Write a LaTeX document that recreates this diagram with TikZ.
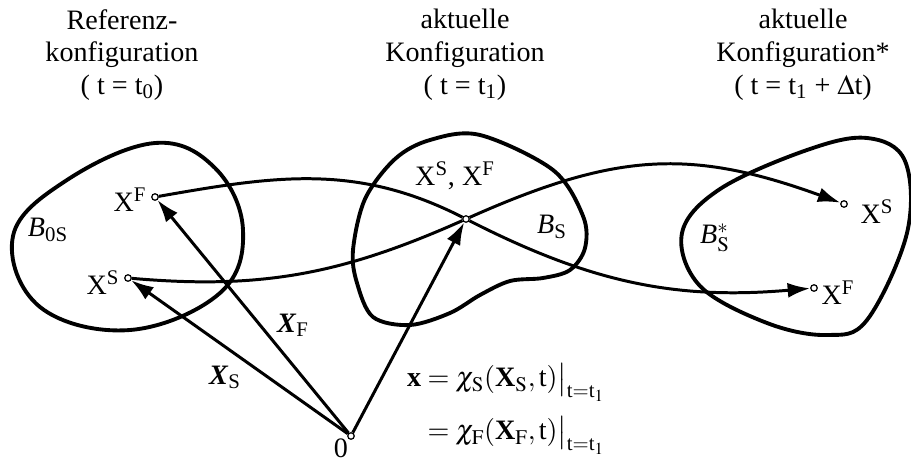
\documentclass[tikz,border=0pt]{standalone}
\usepackage{amsmath}
\usepackage{mathptmx}
\usepackage{fontspec}
\setmainfont{Liberation Serif}
\usepackage{tikz}
\usetikzlibrary{arrows.meta}

\tikzset{
  blob/.style={line width=2.2pt, line join=round},
  track/.style={line width=1.7pt},
  tip/.style={-{Latex[length=4.5mm,width=3mm]}},
  vec/.style={line width=1.7pt, tip},
  pt/.style={draw, circle, fill=white, inner sep=0pt, minimum size=1.3mm, line width=0.7pt},
  lbl/.style={font=\fontsize{16}{18.7}\selectfont, inner sep=1pt}
}

\begin{document}
\begin{tikzpicture}[x=0.02cm, y=0.02cm]
  \useasboundingbox (0,0) rectangle (911,461);

  % Headings
  \node[lbl, align=center] (head0) at (122,406) {Referenz-\\konfiguration\\( t = t\textsubscript{0})};
  \node[lbl, align=center] (head1) at (465,406) {aktuelle\\Konfiguration\\( t = t\textsubscript{1})};
  \node[lbl, align=center] (head2) at (803,406) {aktuelle\\Konfiguration*\\( t = t\textsubscript{1} + $\Delta$t)};

  % Bodies
  \draw[blob] plot[smooth cycle, tension=0.65] coordinates {
    (13,225) (67,281) (155,318) (215,293) (243,231) (220,168)
    (130,131) (40,154)};
  \draw[blob] plot[smooth cycle, tension=0.55] coordinates {
    (480,326) (553,291) (583,245) (585,213) (570,191) (543,183)
    (510,180) (480,166) (450,148) (410,136) (373,144) (357,178)
    (353,211) (365,262) (395,302) (430,321)};
  \draw[blob] plot[smooth cycle, tension=0.6] coordinates {
    (867,323) (905,300) (907,228) (867,141) (827,126) (767,138)
    (700,175) (682,228) (720,272) (807,311)};

  % Material points
  \node[pt] (O) at (351,25) {};
  \node[pt] (XF0) at (155,264) {};
  \node[pt] (XS0) at (128,183) {};
  \node[pt] (M) at (466,242) {};
  \node[pt] (XS1) at (844,257) {};
  \node[pt] (XF1) at (814,173) {};

  % Paths of the two points
  \draw[track] (XF0) to[out=10, in=153] (M);
  \draw[track, tip] (M) to[out=-27, in=185] (XF1);
  \draw[track] (XS0) to[out=-5, in=-156] (M);
  \draw[track, tip] (M) to[out=24, in=160, looseness=1.1] (XS1);

  % Position vectors
  \draw[vec] (O) -- (XF0);
  \draw[vec] (O) -- (XS0);
  \draw[vec] (O) -- (M);

  % Labels
  \node[lbl] (lXF0) at (130,261) {X\textsuperscript{F}};
  \node[lbl] (lXS0) at (103,178) {X\textsuperscript{S}};
  \node[lbl] (lM) at (455,285) {X\textsuperscript{S}, X\textsuperscript{F}};
  \node[lbl] (lXS1) at (877,249) {X\textsuperscript{S}};
  \node[lbl] (lXF1) at (838,168) {X\textsuperscript{F}};
  \node[lbl, inner sep=0pt] (lO) at (341,13) {0};
  \node[lbl] (lB0) at (48,231) {\textit{B}\textsubscript{0S}};
  \node[lbl] (lB1) at (552,234) {\textit{B}\textsubscript{S}};
  \node[lbl] (lB2) at (715,223) {\textit{B}$^{*}_{\mathrm{S}}$};
  \node[lbl] (lvF) at (293,136) {\textbf{\textit{X}}\textsubscript{F}};
  \node[lbl] (lvS) at (225,84) {\textbf{\textit{X}}\textsubscript{S}};

  % Motion
  \node[lbl, inner sep=0pt] (eq) at (506,52) {$\begin{aligned}
    \textbf{x} &= \chi_{\mathrm{S}}(\textbf{X}_{\mathrm{S}},\text{t})\big|_{\text{t}=\text{t}_1}\\[4pt]
    &= \chi_{\mathrm{F}}(\textbf{X}_{\mathrm{F}},\text{t})\big|_{\text{t}=\text{t}_1}
  \end{aligned}$};
\end{tikzpicture}
\end{document}
